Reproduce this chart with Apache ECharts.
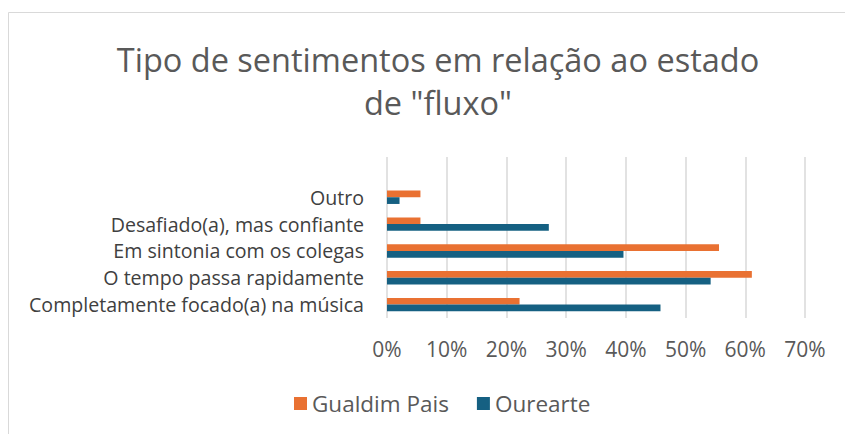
<!DOCTYPE html>
<html>
<head>
<meta charset="utf-8">
<script src="https://cdn.jsdelivr.net/npm/echarts@6/dist/echarts.min.js"></script>
<style>
  html, body { margin: 0; padding: 0; background: #fff; }
  #chart { width: 845px; height: 434px; }
</style>
</head>
<body>
<div id="chart"></div>
<script>
// categories bottom -> top; last one is the empty slot Excel leaves at the top
var categories = ['Completamente focado(a) na música', 'O tempo passa rapidamente', 'Em sintonia com os colegas', 'Desafiado(a), mas confiante', 'Outro', ''];
var gualdim = [22.2, 61.1, 55.6, 5.6, 5.6, null];
var ourearte = [45.8, 54.2, 39.6, 27.1, 2.1, null];
var seriesNames = ['Gualdim Pais', 'Ourearte'];

var orange = '#E97132';
var blue = '#156082';
var grey = '#595959';
var rule = '#d9d9d9';
var font = 'Open Sans';

var chart = echarts.init(document.getElementById('chart'), null, { renderer: 'svg' });
chart.setOption({
  animation: false,
  graphic: [{
    type: 'rect',
    shape: { x: 8.5, y: 12.5, width: 900, height: 500 },
    style: { fill: 'none', stroke: rule, lineWidth: 1 },
    silent: true
  }],
  title: {
    text: 'Tipo de sentimentos em relação ao estado\nde "fluxo"',
    left: 433,
    top: 33,
    textAlign: 'center',
    textStyle: { fontFamily: font, fontSize: 32.5, fontWeight: 'normal', color: grey, lineHeight: 43 }
  },
  legend: {
    data: seriesNames,
    left: 289,
    top: 387,
    itemWidth: 13,
    itemHeight: 13,
    itemGap: 28,
    icon: 'rect',
    textStyle: { fontFamily: font, fontSize: 22.5, color: grey }
  },
  grid: { left: 387, right: 40, top: 157, bottom: 116 },
  xAxis: {
    type: 'value',
    min: 0,
    max: 70,
    interval: 10,
    axisLine: { show: false },
    axisTick: { show: false },
    axisLabel: { formatter: '{value}%', fontFamily: font, fontSize: 21, color: grey, margin: 20 },
    splitLine: { lineStyle: { color: rule, width: 1.5 } }
  },
  yAxis: {
    type: 'category',
    data: categories,
    axisLine: { show: false },
    axisTick: { show: false },
    axisLabel: { fontFamily: font, fontSize: 19.6, color: '#404040', margin: 23 }
  },
  series: [
    {
      name: seriesNames[0],
      type: 'bar',
      data: gualdim,
      itemStyle: { color: orange },
      barGap: '0%',
      barCategoryGap: '50%'
    },
    {
      name: seriesNames[1],
      type: 'bar',
      data: ourearte,
      itemStyle: { color: blue },
      barGap: '0%',
      barCategoryGap: '50%'
    }
  ]
});
</script>
</body>
</html>
